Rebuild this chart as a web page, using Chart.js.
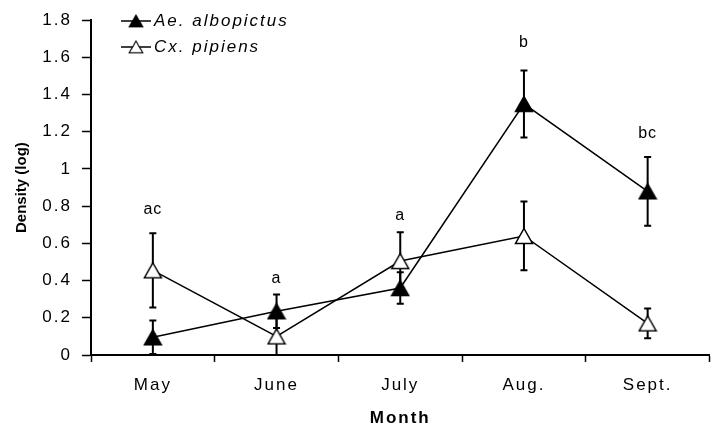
<!DOCTYPE html>
<html>
<head>
<meta charset="utf-8">
<script src="https://cdn.jsdelivr.net/npm/chart.js@4.4.1/dist/chart.umd.min.js"></script>
<style>
  html, body { margin: 0; padding: 0; background: #fff; overflow: hidden; }
  #wrap { width: 711px; height: 434px; overflow: hidden; }
</style>
</head>
<body>
<div id="wrap"><canvas id="densityChart" width="720" height="434"></canvas></div>
<script>
// values
const months = ["May", "June", "July", "Aug.", "Sept."];
const albopictus = [0.095, 0.235, 0.36, 1.35, 0.88];
const albopictusErr = [0.09, 0.09, 0.085, 0.18, 0.185];
const pipiens = [0.455, 0.10, 0.505, 0.64, 0.17];
const pipiensErr = [0.20, 0.10, 0.155, 0.185, 0.08];
const letters = ["ac", "a", "a", "b", "bc"];
const letterLevels = [0.78, 0.41, 0.75, 1.68, 1.19];
const yTickLabels = ["0", "0.2", "0.4", "0.6", "0.8", "1", "1.2", "1.4", "1.6", "1.8"];

const FONT = "'Liberation Sans', Arial, sans-serif";

// Excel-like triangle marker (centred on its bounding box)
function triangleMarker(filled) {
  const c = document.createElement("canvas");
  c.width = 20;
  c.height = 18;
  const g = c.getContext("2d");
  g.beginPath();
  g.moveTo(10, 1.5);
  g.lineTo(18.5, 16.5);
  g.lineTo(1.5, 16.5);
  g.closePath();
  g.fillStyle = filled ? "#000" : "#fff";
  g.fill();
  g.lineWidth = 1.5;
  g.strokeStyle = "#000";
  g.stroke();
  return c;
}
const filledTri = triangleMarker(true);
const openTri = triangleMarker(false);

// the scanned figure has loosely spaced lettering
const spacing = {
  id: "spacing",
  beforeLayout(chart) { chart.ctx.letterSpacing = "2px"; },
  beforeDraw(chart) { chart.ctx.letterSpacing = "2px"; }
};

const errorBars = {
  id: "errorBars",
  beforeDatasetsDraw(chart) {
    const { ctx, scales: { x, y } } = chart;
    ctx.save();
    ctx.strokeStyle = "#000";
    ctx.lineWidth = 2;
    chart.data.datasets.forEach((ds) => {
      ds.errors.forEach((e, i) => {
        const px = x.getPixelForValue(i);
        const top = y.getPixelForValue(ds.data[i] + e);
        const bot = y.getPixelForValue(Math.max(0, ds.data[i] - e));
        ctx.beginPath();
        ctx.moveTo(px, top);
        ctx.lineTo(px, bot);
        ctx.moveTo(px - 3.5, top);
        ctx.lineTo(px + 3.5, top);
        ctx.moveTo(px - 3.5, bot);
        ctx.lineTo(px + 3.5, bot);
        ctx.stroke();
      });
    });
    ctx.restore();
  }
};

const groupLetters = {
  id: "groupLetters",
  afterDatasetsDraw(chart) {
    const { ctx, scales: { x, y } } = chart;
    ctx.save();
    ctx.fillStyle = "#000";
    ctx.font = "16px " + FONT;
    ctx.letterSpacing = "1px";
    ctx.textAlign = "center";
    ctx.textBaseline = "middle";
    letters.forEach((t, i) => {
      ctx.fillText(t, x.getPixelForValue(i), y.getPixelForValue(letterLevels[i]));
    });
    ctx.restore();
  }
};

const insideLegend = {
  id: "insideLegend",
  afterDraw(chart) {
    const ctx = chart.ctx;
    ctx.save();
    chart.data.datasets.forEach((ds, i) => {
      const ly = 21 + i * 26;
      ctx.strokeStyle = "#000";
      ctx.lineWidth = 1.5;
      ctx.beginPath();
      ctx.moveTo(121, ly);
      ctx.lineTo(151, ly);
      ctx.stroke();
      ctx.drawImage(ds.pointStyle, 136 - 8, ly - 7, 16, 14);
      ctx.fillStyle = "#000";
      ctx.font = "italic 17px " + FONT;
      ctx.letterSpacing = "2px";
      ctx.textAlign = "left";
      ctx.textBaseline = "middle";
      ctx.fillText(ds.label, 154, ly);
    });
    ctx.restore();
  }
};

new Chart(document.getElementById("densityChart"), {
  type: "line",
  data: {
    labels: months,
    datasets: [
      {
        label: "Ae. albopictus",
        data: albopictus,
        errors: albopictusErr,
        borderColor: "#000",
        borderWidth: 1.5,
        pointStyle: filledTri,
        pointRadius: 9,
        tension: 0,
        fill: false
      },
      {
        label: "Cx. pipiens",
        data: pipiens,
        errors: pipiensErr,
        borderColor: "#000",
        borderWidth: 1.5,
        pointStyle: openTri,
        pointRadius: 9,
        tension: 0,
        fill: false
      }
    ]
  },
  options: {
    responsive: false,
    devicePixelRatio: 1,
    animation: false,
    layout: { padding: { top: 15, right: 4, bottom: 0, left: 0 } },
    plugins: {
      legend: { display: false },
      tooltip: { enabled: false }
    },
    scales: {
      x: {
        offset: true,
        grid: {
          offset: true,
          drawOnChartArea: false,
          tickLength: 7,
          tickWidth: 1.5,
          tickColor: "#000"
        },
        border: { display: true, color: "#000", width: 2 },
        ticks: {
          color: "#000",
          font: { family: FONT, size: 17 },
          padding: 13,
          maxRotation: 0,
          autoSkip: false
        },
        title: {
          display: true,
          text: "Month",
          color: "#000",
          font: { family: FONT, size: 17, weight: "bold" },
          padding: { top: 0, bottom: 5 }
        },
        afterFit(scale) { scale.height = 79; }
      },
      y: {
        min: 0,
        max: 1.8,
        grid: {
          drawOnChartArea: false,
          tickLength: 9,
          tickWidth: 1.5,
          tickColor: "#000"
        },
        border: { display: true, color: "#000", width: 2 },
        ticks: {
          stepSize: 0.2,
          color: "#000",
          font: { family: FONT, size: 17 },
          padding: 10,
          callback: (v, i) => yTickLabels[i]
        },
        title: {
          display: true,
          text: "Density (log)",
          color: "#000",
          font: { family: FONT, size: 15, weight: "bold" },
          padding: { top: 13, bottom: 0 }
        },
        afterFit(scale) {
          scale.width = 91;
          // y title is set tight, without the extra spacing
          if (!scale._tightTitle) {
            const drawTitle = scale.drawTitle;
            scale.drawTitle = function () {
              const prev = this.ctx.letterSpacing;
              this.ctx.letterSpacing = "0px";
              drawTitle.call(this);
              this.ctx.letterSpacing = prev;
            };
            scale._tightTitle = true;
          }
        }
      }
    }
  },
  plugins: [spacing, errorBars, groupLetters, insideLegend]
});
</script>
</body>
</html>
